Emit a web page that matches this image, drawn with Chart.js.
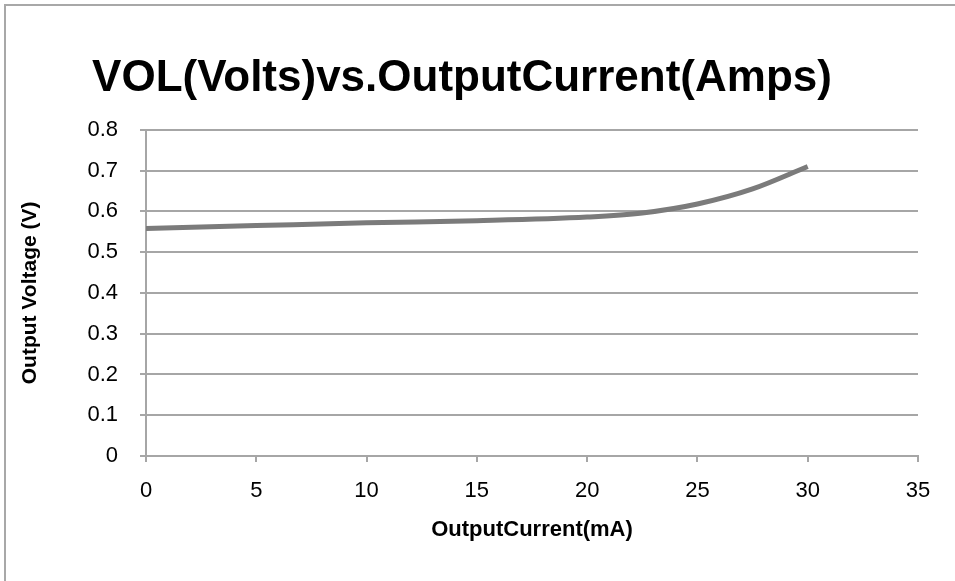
<!DOCTYPE html>
<html>
<head>
<meta charset="utf-8">
<script src="https://cdn.jsdelivr.net/npm/chart.js@4.4.1/dist/chart.umd.min.js"></script>
<style>
  html, body { margin: 0; padding: 0; background: #fff; }
  #wrap { width: 955px; height: 581px; }
</style>
</head>
<body>
<div id="wrap"><canvas id="volChart" width="955" height="581"></canvas></div>
<script>
// output current (mA) and VOL (V)
const currents = [0, 5, 10, 15, 20, 22.5, 25, 27.5, 30];
const voltages = [0.558, 0.565, 0.572, 0.577, 0.586, 0.596, 0.618, 0.655, 0.71];

const xMin = 0, xMax = 35, xStep = 5;
const yMin = 0, yMax = 0.8, yStep = 0.1;

const fontName = '"Liberation Sans", Arial, sans-serif';
const gridGrey = '#a6a6a6';

// the grey frame round the whole chart
const frame = {
    id: 'frame',
    beforeDraw(chart) {
        const c = chart.ctx;
        c.save();
        c.fillStyle = '#fff';
        c.fillRect(0, 0, chart.width, chart.height);
        c.strokeStyle = '#a8a8a8';
        c.lineWidth = 2;
        c.beginPath();
        c.moveTo(5, chart.height + 5);
        c.lineTo(5, 5);
        c.lineTo(chart.width + 5, 5);
        c.stroke();
        c.restore();
    }
};

const ctx = document.getElementById('volChart').getContext('2d');

new Chart(ctx, {
    type: 'line',
    data: {
        datasets: [{
            data: currents.map((c, i) => ({ x: c, y: voltages[i] })),
            borderColor: '#7b7b7b',
            borderWidth: 5,
            pointRadius: 0,
            fill: false,
            tension: 0.4,
            cubicInterpolationMode: 'monotone'
        }]
    },
    options: {
        responsive: false,
        animation: false,
        layout: { padding: { left: 6, right: 37, top: 0, bottom: 0 } },
        plugins: {
            legend: { display: false },
            tooltip: { enabled: false },
            title: {
                display: true,
                text: 'VOL(Volts)vs.OutputCurrent(Amps)',
                color: '#000',
                font: { family: fontName, size: 44, weight: 'bold' },
                padding: { top: 52, bottom: 25 }
            }
        },
        scales: {
            x: {
                type: 'linear',
                min: xMin,
                max: xMax,
                afterFit(axis) { axis.height = 125; },
                ticks: {
                    stepSize: xStep,
                    color: '#000',
                    padding: 16,
                    maxRotation: 0,
                    font: { family: fontName, size: 22 }
                },
                grid: { drawOnChartArea: false, drawTicks: true, tickLength: 6, color: gridGrey, lineWidth: 2 },
                border: { display: true, color: gridGrey, width: 2 },
                title: {
                    display: true,
                    text: 'OutputCurrent(mA)',
                    color: '#000',
                    font: { family: fontName, size: 22, weight: 'bold' },
                    padding: { top: 0, bottom: 38 }
                }
            },
            y: {
                min: yMin,
                max: yMax,
                afterFit(axis) { axis.width = 140; },
                ticks: {
                    stepSize: yStep,
                    color: '#000',
                    padding: 22,
                    font: { family: fontName, size: 22 }
                },
                grid: { color: gridGrey, lineWidth: 2, tickLength: 6 },
                border: { display: true, color: gridGrey, width: 2 },
                title: {
                    display: true,
                    text: 'Output Voltage (V)',
                    color: '#000',
                    font: { family: fontName, size: 21, weight: 'bold' },
                    padding: { top: 12, bottom: 0 }
                }
            }
        }
    },
    plugins: [frame]
});
</script>
</body>
</html>
